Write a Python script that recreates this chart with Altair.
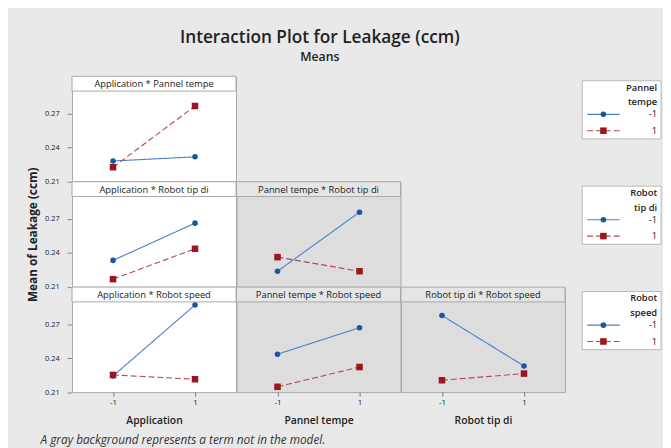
import altair as alt
import pandas as pd

# ---------------- data ----------------
x_factors = ["Application", "Application", "Application",
             "Pannel tempe", "Pannel tempe", "Robot tip di"]
trace_factors = ["Pannel tempe", "Robot tip di", "Robot speed",
                 "Robot tip di", "Robot speed", "Robot speed"]
x_levels = [-1, 1]
levels = ["-1", "1"]
# means for trace level -1 (blue) at x = -1, 1
mean_low = [
    [0.2280, 0.2317],
    [0.2333, 0.2663],
    [0.2243, 0.2872],
    [0.2237, 0.2760],
    [0.2436, 0.2670],
    [0.2778, 0.2331],
]
# means for trace level 1 (red) at x = -1, 1
mean_high = [
    [0.2225, 0.2767],
    [0.2167, 0.2436],
    [0.2252, 0.2214],
    [0.2362, 0.2237],
    [0.2147, 0.2322],
    [0.2205, 0.2264],
]
in_model = [True, True, True, False, False, False]
grid_pos = [(0, 0), (1, 0), (2, 0), (1, 1), (2, 1), (2, 2)]
y_ticks = [0.21, 0.24, 0.27]
legend_titles = [["Pannel", "tempe"], ["Robot", "tip di"], ["Robot", "speed"]]
footer = "A gray background represents a term not in the model."

# ---------------- styling ----------------
FONT = "Open Sans"
W, H, HDR = 166.5, 106.6, 15
Y_DOM = [0.21, 0.21 + H / 34.4 * 0.03]
BLUE_LINE, BLUE_PT = "#4a80c6", "#1a56a3"
RED_LINE, RED_PT = "#b8474c", "#9c1620"
PAGE_BG = "#e9e9e9"
GRAY_BG, GRAY_HDR = "#dddddd", "#e5e5e5"
BORDER = "#a9a9a9"
TEXT = "#222222"


def panel(i, row, col):
    df = pd.DataFrame({
        "x": x_levels * 2,
        "mean": mean_low[i] + mean_high[i],
        "level": [levels[0]] * 2 + [levels[1]] * 2,
    })
    if row == 2:
        x_axis = alt.Axis(values=x_levels, format="d", title=x_factors[i],
                          labelExpr="replace(datum.label, '\u2212', '-')",
                          labelFontSize=8, labelColor=TEXT, labelPadding=3,
                          tickSize=4, tickColor="#777", domain=False,
                          grid=False, titleFontSize=10.5, titleFontWeight=600,
                          titleColor=TEXT, titlePadding=9, titleFont=FONT,
                          labelFont=FONT)
    else:
        x_axis = None
    if col == 0:
        y_axis = alt.Axis(values=y_ticks, format=".2f",
                          title="Mean of Leakage (ccm)" if row == 1 else None,
                          labelFontSize=7.5, labelColor=TEXT, labelPadding=8,
                          tickSize=5, tickColor="#888", domain=False,
                          grid=False, titleFontSize=12, titleFontWeight="bold",
                          titleColor=TEXT, titlePadding=5, titleFont=FONT,
                          labelFont=FONT)
    else:
        y_axis = None
    x = alt.X("x:Q", scale=alt.Scale(domain=[-2, 2], nice=False, zero=False),
              axis=x_axis)
    y = alt.Y("mean:Q", scale=alt.Scale(domain=Y_DOM, nice=False, zero=False),
              axis=y_axis)
    base = alt.Chart(df)
    lines = base.mark_line(strokeWidth=1.1).encode(
        x=x, y=y,
        stroke=alt.Stroke("level:N", scale=alt.Scale(domain=levels, range=[BLUE_LINE, RED_LINE]), legend=None),
        strokeDash=alt.StrokeDash("level:N", scale=alt.Scale(domain=levels, range=[[1, 0], [6, 3]]), legend=None),
        detail="level:N",
    )
    pts = base.mark_point(filled=True, opacity=1, strokeWidth=0).encode(
        x=x, y=y,
        fill=alt.Fill("level:N", scale=alt.Scale(domain=levels, range=[BLUE_PT, RED_PT]), legend=None),
        shape=alt.Shape("level:N", scale=alt.Scale(domain=levels, range=["circle", "square"]), legend=None),
        size=alt.Size("level:O", scale=alt.Scale(domain=levels, range=[32, 44]), legend=None),
    )
    hdr_df = pd.DataFrame({"label": [f"{x_factors[i]} * {trace_factors[i]}"]})
    hdr = alt.Chart(hdr_df).mark_rect(
        fill="#ffffff" if in_model[i] else GRAY_HDR, stroke=BORDER, strokeWidth=1
    ).encode(x=alt.value(0), x2=alt.value(W), y=alt.value(0), y2=alt.value(HDR))
    hdr_txt = alt.Chart(hdr_df).mark_text(
        font=FONT, fontSize=9.5, color=TEXT, baseline="middle", align="center"
    ).encode(x=alt.value(W / 2), y=alt.value(HDR / 2 + 0.5), text="label:N")
    layers = [hdr, hdr_txt, lines, pts]
    if row == 2 and col == 0:
        foot = alt.Chart(pd.DataFrame({"t": [footer]})).mark_text(
            font=FONT, fontSize=12, fontStyle="italic", color="#333",
            align="left", baseline="middle"
        ).encode(x=alt.value(-32), y=alt.value(155), text="t:N")
        layers.append(foot)
    return alt.layer(*layers).properties(
        width=W, height=H,
        view=alt.ViewBackground(fill="#ffffff" if in_model[i] else GRAY_BG,
                                stroke=BORDER, strokeWidth=1),
    )


def empty():
    return alt.Chart(pd.DataFrame({"a": [0]})).mark_point(opacity=0).encode(
        x=alt.value(0), y=alt.value(0)
    ).properties(width=W, height=H,
                 view=alt.ViewBackground(fill="transparent", stroke="transparent"))


def legend(r):
    t1, t2 = legend_titles[r]
    ys = alt.Scale(domain=[0, H], range=[0, H])
    box = alt.Chart(pd.DataFrame({"a": [0]})).mark_rect(
        fill="#ffffff", stroke="#b8b8b8", strokeWidth=1
    ).encode(x=alt.value(17), x2=alt.value(97), y=alt.value(4.5), y2=alt.value(63.5))
    tdf = pd.DataFrame({"t": [t1, t2], "yy": [14.5, 29.3]})
    ttl = alt.Chart(tdf).mark_text(
        font=FONT, fontSize=9.5, fontWeight=600, color=TEXT, align="right", baseline="alphabetic"
    ).encode(x=alt.value(93), y=alt.Y("yy:Q", scale=ys, axis=None), text="t:N")
    ldf = pd.DataFrame({"t": levels, "yy": [41.7, 58.3], "ly": [38.6, 55.2]})
    lab = alt.Chart(ldf).mark_text(
        font=FONT, fontSize=9.5, color=TEXT, align="right", baseline="alphabetic"
    ).encode(x=alt.value(93), y=alt.Y("yy:Q", scale=ys, axis=None), text="t:N")
    ln = alt.Chart(ldf).mark_rule(strokeWidth=1.1).encode(
        x=alt.value(22), x2=alt.value(55),
        y=alt.Y("ly:Q", scale=ys, axis=None),
        stroke=alt.Stroke("t:N", scale=alt.Scale(domain=levels, range=[BLUE_LINE, RED_LINE]), legend=None),
        strokeDash=alt.StrokeDash("t:N", scale=alt.Scale(domain=levels, range=[[1, 0], [6, 3]]), legend=None),
    )
    pt = alt.Chart(ldf).mark_point(filled=True, opacity=1, strokeWidth=0).encode(
        x=alt.value(38.5),
        y=alt.Y("ly:Q", scale=ys, axis=None),
        fill=alt.Fill("t:N", scale=alt.Scale(domain=levels, range=[BLUE_PT, RED_PT]), legend=None),
        shape=alt.Shape("t:N", scale=alt.Scale(domain=levels, range=["circle", "square"]), legend=None),
        size=alt.Size("t:O", scale=alt.Scale(domain=levels, range=[32, 44]), legend=None),
    )
    return alt.layer(box, ln, pt, ttl, lab).properties(
        width=98, height=H,
        view=alt.ViewBackground(fill="transparent", stroke="transparent"),
    )


cells = {}
for i, (r, c) in enumerate(grid_pos):
    cells[(r, c)] = panel(i, r, c)

ordered = []
for r in range(3):
    for c in range(3):
        ordered.append(cells.get((r, c), empty()))
    ordered.append(legend(r))

chart = alt.concat(*ordered, columns=4, spacing=0, bounds="flush").properties(
    title=alt.TitleParams(
        text="Interaction Plot for Leakage (ccm)", subtitle="Means",
        anchor="middle", font=FONT, fontSize=17.5, fontWeight=600, color=TEXT,
        subtitleFont=FONT, subtitleFontSize=12.5, subtitleFontWeight=600,
        subtitleColor=TEXT, subtitlePadding=5, offset=10, dx=-25,
    ),
    background=PAGE_BG,
    padding={"left": 18, "top": 17, "right": 0, "bottom": 0},
).configure_view(stroke=BORDER)

chart.save("out.html", embed_options={"renderer": "svg", "actions": False})
